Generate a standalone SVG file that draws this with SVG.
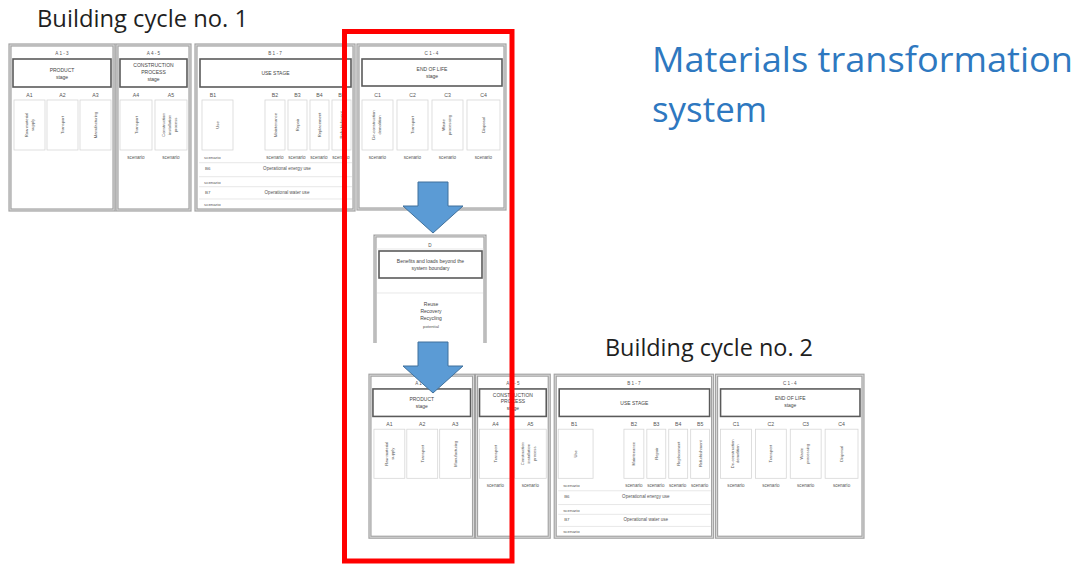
<svg xmlns="http://www.w3.org/2000/svg" width="1080" height="566" viewBox="0 0 1080 566">
<defs>
<style>
.bg{fill:#ffffff}
.frame{fill:#ffffff;stroke:#a3a3a3;stroke-width:3.2}
.frame2{fill:none;stroke:#dcdcdc;stroke-width:0.9}
.stage{fill:#ffffff;stroke:#5a5a5a;stroke-width:1.6}
.mod{fill:#ffffff;stroke:#d6d6d6;stroke-width:0.8}
.sep{stroke:#dedede;stroke-width:0.7;fill:none}
.t{font-family:"Liberation Sans",Arial,sans-serif;font-size:4.6px;fill:#555555;text-anchor:middle}
.ts{font-family:"Liberation Sans",Arial,sans-serif;font-size:4.2px;fill:#555555;text-anchor:middle}
.tl{font-family:"Liberation Sans",Arial,sans-serif;font-size:4.4px;fill:#555555;text-anchor:start}
.st{font-family:"Liberation Sans",Arial,sans-serif;font-size:5px;fill:#444444;text-anchor:middle}
.ml{font-family:"Liberation Sans",Arial,sans-serif;font-size:5.2px;fill:#555555;text-anchor:middle}
.title{font-family:"Open Sans","Liberation Sans",Arial,sans-serif;fill:#1f1f1f}
.blue{font-family:"Open Sans","Liberation Sans",Arial,sans-serif;fill:#2e78c0}
.arrow{fill:#5b9bd5;stroke:#41719c;stroke-width:1}
.red{fill:none;stroke:#ff0000;stroke-width:5}
</style>
</defs>
<rect class="bg" x="0" y="0" width="1080" height="566"/>

<g id="titles">
<text class="title" x="37" y="27" font-size="23" textLength="211" lengthAdjust="spacingAndGlyphs">Building cycle no. 1</text>
<text class="title" x="605" y="356" font-size="23" textLength="208" lengthAdjust="spacingAndGlyphs">Building cycle no. 2</text>
<text class="blue" x="652" y="72" font-size="35" textLength="421" lengthAdjust="spacingAndGlyphs">Materials transformation</text>
<text class="blue" x="652" y="122" font-size="35" textLength="115" lengthAdjust="spacingAndGlyphs">system</text>
</g>

<g id="cycle1">
<g id="c1-product">
<rect class="frame" x="10" y="45" width="104" height="165"/>
<rect class="frame2" x="10" y="45" width="104" height="165"/>
<text class="t" x="62" y="55">A 1 - 3</text>
<rect class="stage" x="13" y="59" width="98" height="28"/>
<text class="st" x="62" y="71.5">PRODUCT</text>
<text class="st" x="62" y="78.5">stage</text>
<text class="ml" x="29.5" y="97">A1</text>
<text class="ml" x="62.5" y="97">A2</text>
<text class="ml" x="95.5" y="97">A3</text>
<rect class="mod" x="14" y="100" width="31" height="50"/>
<rect class="mod" x="47" y="100" width="31" height="50"/>
<rect class="mod" x="80" y="100" width="31" height="50"/>
<text class="ts" transform="translate(28,125) rotate(-90)">Raw material</text>
<text class="ts" transform="translate(34,125) rotate(-90)">supply</text>
<text class="ts" transform="translate(64,125) rotate(-90)">Transport</text>
<text class="ts" transform="translate(97,125) rotate(-90)">Manufacturing</text>
</g>
<g id="c1-construction">
<rect class="frame" x="117" y="45" width="73" height="165"/>
<rect class="frame2" x="117" y="45" width="73" height="165"/>
<text class="t" x="153.5" y="55">A 4 - 5</text>
<rect class="stage" x="120" y="59" width="67" height="28"/>
<text class="st" x="153.5" y="67">CONSTRUCTION</text>
<text class="st" x="153.5" y="73.5">PROCESS</text>
<text class="st" x="153.5" y="80.5">stage</text>
<text class="ml" x="136" y="97">A4</text>
<text class="ml" x="171" y="97">A5</text>
<rect class="mod" x="120" y="100" width="32" height="50"/>
<rect class="mod" x="155" y="100" width="32" height="50"/>
<text class="ts" transform="translate(137.5,125) rotate(-90)">Transport</text>
<text class="ts" transform="translate(165,125) rotate(-90)">Construction</text>
<text class="ts" transform="translate(170.5,125) rotate(-90)">installation</text>
<text class="ts" transform="translate(177,125) rotate(-90)">process</text>
<text class="t" x="136" y="158.5">scenario</text>
<text class="t" x="171" y="158.5">scenario</text>
</g>
<g id="c1-use">
<rect class="frame" x="196" y="45" width="158" height="165"/>
<rect class="frame2" x="196" y="45" width="158" height="165"/>
<text class="t" x="275" y="55">B 1 - 7</text>
<rect class="stage" x="200" y="59" width="151" height="28"/>
<text class="st" x="275.5" y="75">USE STAGE</text>
<text class="ml" x="213" y="97">B1</text>
<text class="ml" x="275" y="97">B2</text>
<text class="ml" x="297.5" y="97">B3</text>
<text class="ml" x="319.5" y="97">B4</text>
<text class="ml" x="341.5" y="97">B5</text>
<rect class="mod" x="202" y="100" width="31" height="50"/>
<rect class="mod" x="265" y="100" width="20" height="50"/>
<rect class="mod" x="288" y="100" width="19" height="50"/>
<rect class="mod" x="310" y="100" width="19" height="50"/>
<rect class="mod" x="332" y="100" width="19" height="50"/>
<text class="ts" transform="translate(219,125) rotate(-90)">Use</text>
<text class="ts" transform="translate(276.5,125) rotate(-90)">Maintenance</text>
<text class="ts" transform="translate(299,125) rotate(-90)">Repair</text>
<text class="ts" transform="translate(321,125) rotate(-90)">Replacement</text>
<text class="ts" transform="translate(343,125) rotate(-90)">Refurbishment</text>
<text class="tl" x="204" y="158.5">scenario</text>
<text class="t" x="275" y="158.5">scenario</text>
<text class="t" x="297" y="158.5">scenario</text>
<text class="t" x="319" y="158.5">scenario</text>
<text class="t" x="341" y="158.5">scenario</text>
<line class="sep" x1="199" y1="162.7" x2="352" y2="162.7"/>
<text class="tl" x="205" y="170">B6</text>
<text class="t" x="287" y="170">Operational energy use</text>
<line class="sep" x1="199" y1="176.7" x2="352" y2="176.7"/>
<text class="tl" x="204" y="184">scenario</text>
<line class="sep" x1="199" y1="186.7" x2="352" y2="186.7"/>
<text class="tl" x="205" y="194">B7</text>
<text class="t" x="287" y="194">Operational water use</text>
<line class="sep" x1="199" y1="199" x2="352" y2="199"/>
<text class="tl" x="204" y="205.5">scenario</text>
</g>
<g id="c1-endoflife">
<rect class="frame" x="358" y="45" width="147" height="164"/>
<rect class="frame2" x="358" y="45" width="147" height="164"/>
<text class="t" x="431.5" y="55">C 1 - 4</text>
<rect class="stage" x="362" y="59" width="140" height="27"/>
<text class="st" x="432" y="70.5">END OF LIFE</text>
<text class="st" x="432" y="77.5">stage</text>
<text class="ml" x="377.5" y="97">C1</text>
<text class="ml" x="412.5" y="97">C2</text>
<text class="ml" x="447.5" y="97">C3</text>
<text class="ml" x="483.5" y="97">C4</text>
<rect class="mod" x="362" y="100" width="31" height="50"/>
<rect class="mod" x="397" y="100" width="31" height="50"/>
<rect class="mod" x="432" y="100" width="31" height="50"/>
<rect class="mod" x="467" y="100" width="33" height="50"/>
<text class="ts" transform="translate(375,125) rotate(-90)">De-construction</text>
<text class="ts" transform="translate(381,125) rotate(-90)">demolition</text>
<text class="ts" transform="translate(414,125) rotate(-90)">Transport</text>
<text class="ts" transform="translate(445,125) rotate(-90)">Waste</text>
<text class="ts" transform="translate(451,125) rotate(-90)">processing</text>
<text class="ts" transform="translate(485,125) rotate(-90)">Disposal</text>
<text class="t" x="377.5" y="158.5">scenario</text>
<text class="t" x="412.5" y="158.5">scenario</text>
<text class="t" x="447.5" y="158.5">scenario</text>
<text class="t" x="483.5" y="158.5">scenario</text>
</g>
</g>

<g id="moduleD">
<path class="frame" d="M375,343 V236 H485 V343"/>
<path class="frame2" d="M375,343 V236 H485 V343"/>
<text class="t" x="430" y="246.5">D</text>
<line class="sep" x1="376" y1="249" x2="484" y2="249"/>
<rect class="stage" x="379" y="251" width="103" height="27"/>
<text class="st" x="430.5" y="262.5">Benefits and loads beyond the</text>
<text class="st" x="430.5" y="269.5">system boundary</text>
<line class="sep" x1="377" y1="293" x2="483" y2="293"/>
<text class="st" x="431" y="306">Reuse</text>
<text class="st" x="431" y="313">Recovery</text>
<text class="st" x="431" y="320">Recycling</text>
<text class="ts" x="431" y="327.5">potential</text>
</g>

<g id="cycle2" transform="translate(360,331) scale(0.996,0.982)">
<g id="c2-product">
<rect class="frame" x="10" y="45" width="104" height="165"/>
<rect class="frame2" x="10" y="45" width="104" height="165"/>
<text class="t" x="62" y="55">A 1 - 3</text>
<rect class="stage" x="13" y="59" width="98" height="28"/>
<text class="st" x="62" y="71.5">PRODUCT</text>
<text class="st" x="62" y="78.5">stage</text>
<text class="ml" x="29.5" y="97">A1</text>
<text class="ml" x="62.5" y="97">A2</text>
<text class="ml" x="95.5" y="97">A3</text>
<rect class="mod" x="14" y="100" width="31" height="50"/>
<rect class="mod" x="47" y="100" width="31" height="50"/>
<rect class="mod" x="80" y="100" width="31" height="50"/>
<text class="ts" transform="translate(28,125) rotate(-90)">Raw material</text>
<text class="ts" transform="translate(34,125) rotate(-90)">supply</text>
<text class="ts" transform="translate(64,125) rotate(-90)">Transport</text>
<text class="ts" transform="translate(97,125) rotate(-90)">Manufacturing</text>
</g>
<g id="c2-construction">
<rect class="frame" x="117" y="45" width="73" height="165"/>
<rect class="frame2" x="117" y="45" width="73" height="165"/>
<text class="t" x="153.5" y="55">A 4 - 5</text>
<rect class="stage" x="120" y="59" width="67" height="28"/>
<text class="st" x="153.5" y="67">CONSTRUCTION</text>
<text class="st" x="153.5" y="73.5">PROCESS</text>
<text class="st" x="153.5" y="80.5">stage</text>
<text class="ml" x="136" y="97">A4</text>
<text class="ml" x="171" y="97">A5</text>
<rect class="mod" x="120" y="100" width="32" height="50"/>
<rect class="mod" x="155" y="100" width="32" height="50"/>
<text class="ts" transform="translate(137.5,125) rotate(-90)">Transport</text>
<text class="ts" transform="translate(165,125) rotate(-90)">Construction</text>
<text class="ts" transform="translate(170.5,125) rotate(-90)">installation</text>
<text class="ts" transform="translate(177,125) rotate(-90)">process</text>
<text class="t" x="136" y="158.5">scenario</text>
<text class="t" x="171" y="158.5">scenario</text>
</g>
<g id="c2-use">
<rect class="frame" x="196" y="45" width="158" height="165"/>
<rect class="frame2" x="196" y="45" width="158" height="165"/>
<text class="t" x="275" y="55">B 1 - 7</text>
<rect class="stage" x="200" y="59" width="151" height="28"/>
<text class="st" x="275.5" y="75">USE STAGE</text>
<text class="ml" x="215" y="97">B1</text>
<text class="ml" x="275" y="97">B2</text>
<text class="ml" x="297.5" y="97">B3</text>
<text class="ml" x="319.5" y="97">B4</text>
<text class="ml" x="341.5" y="97">B5</text>
<rect class="mod" x="199" y="100" width="35" height="50"/>
<rect class="mod" x="265" y="100" width="20" height="50"/>
<rect class="mod" x="288" y="100" width="19" height="50"/>
<rect class="mod" x="310" y="100" width="19" height="50"/>
<rect class="mod" x="332" y="100" width="19" height="50"/>
<text class="ts" transform="translate(218,125) rotate(-90)">Use</text>
<text class="ts" transform="translate(276.5,125) rotate(-90)">Maintenance</text>
<text class="ts" transform="translate(299,125) rotate(-90)">Repair</text>
<text class="ts" transform="translate(321,125) rotate(-90)">Replacement</text>
<text class="ts" transform="translate(343,125) rotate(-90)">Refurbishment</text>
<text class="tl" x="204" y="158.5">scenario</text>
<text class="t" x="275" y="158.5">scenario</text>
<text class="t" x="297" y="158.5">scenario</text>
<text class="t" x="319" y="158.5">scenario</text>
<text class="t" x="341" y="158.5">scenario</text>
<line class="sep" x1="199" y1="162.7" x2="352" y2="162.7"/>
<text class="tl" x="205" y="170">B6</text>
<text class="t" x="287" y="170">Operational energy use</text>
<line class="sep" x1="199" y1="176.7" x2="352" y2="176.7"/>
<text class="tl" x="204" y="184">scenario</text>
<line class="sep" x1="199" y1="186.7" x2="352" y2="186.7"/>
<text class="tl" x="205" y="194">B7</text>
<text class="t" x="287" y="194">Operational water use</text>
<line class="sep" x1="199" y1="199" x2="352" y2="199"/>
<text class="tl" x="204" y="205.5">scenario</text>
</g>
<g id="c2-endoflife">
<rect class="frame" x="358" y="45" width="147" height="165"/>
<rect class="frame2" x="358" y="45" width="147" height="165"/>
<text class="t" x="431.5" y="55">C 1 - 4</text>
<rect class="stage" x="362" y="59" width="140" height="28"/>
<text class="st" x="432" y="70.5">END OF LIFE</text>
<text class="st" x="432" y="77.5">stage</text>
<text class="ml" x="377.5" y="97">C1</text>
<text class="ml" x="412.5" y="97">C2</text>
<text class="ml" x="447.5" y="97">C3</text>
<text class="ml" x="483.5" y="97">C4</text>
<rect class="mod" x="362" y="100" width="31" height="50"/>
<rect class="mod" x="397" y="100" width="31" height="50"/>
<rect class="mod" x="432" y="100" width="31" height="50"/>
<rect class="mod" x="467" y="100" width="33" height="50"/>
<text class="ts" transform="translate(375,125) rotate(-90)">De-construction</text>
<text class="ts" transform="translate(381,125) rotate(-90)">demolition</text>
<text class="ts" transform="translate(414,125) rotate(-90)">Transport</text>
<text class="ts" transform="translate(445,125) rotate(-90)">Waste</text>
<text class="ts" transform="translate(451,125) rotate(-90)">processing</text>
<text class="ts" transform="translate(485,125) rotate(-90)">Disposal</text>
<text class="t" x="377.5" y="158.5">scenario</text>
<text class="t" x="412.5" y="158.5">scenario</text>
<text class="t" x="447.5" y="158.5">scenario</text>
<text class="t" x="483.5" y="158.5">scenario</text>
</g>
</g>

<g id="connectors">
<polygon class="arrow" points="418,182 448,182 448,206 463,206 433,233 403,206 418,206"/>
<polygon class="arrow" points="418,342 448,342 448,366 463,366 433,393 403,366 418,366"/>
</g>

<g id="boundary">
<rect class="red" x="344.5" y="31.5" width="167.5" height="529.5"/>
</g>
</svg>
